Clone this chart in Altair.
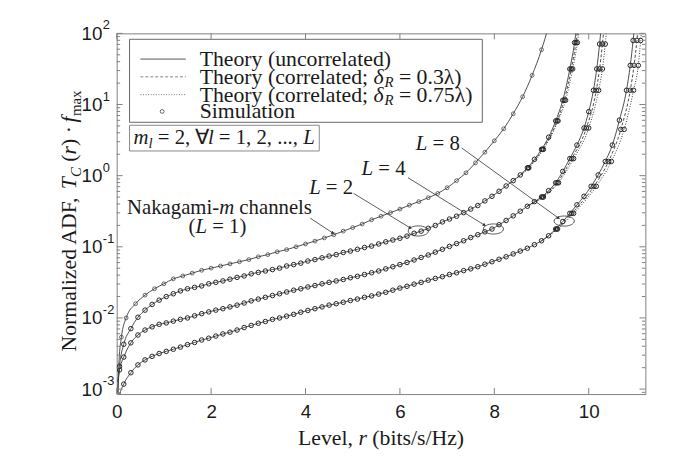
import altair as alt
import pandas as pd

# ---------------- values ----------------
# Level grid (bits/s/Hz) shared by the dense curves
r_grid = [0.15, 0.3, 0.45, 0.6, 0.75, 0.9, 1.05, 1.2, 1.35, 1.5, 1.65, 1.8, 1.95, 2.1, 2.25,
          2.4, 2.55, 2.7, 2.85, 3.0, 3.15, 3.3, 3.45, 3.6, 3.75, 3.9, 4.05, 4.2, 4.35, 4.5,
          4.65, 4.8, 4.95, 5.1, 5.25, 5.4, 5.55, 5.7, 5.85, 6.0, 6.15, 6.3, 6.45, 6.6, 6.75,
          6.9, 7.05, 7.2, 7.35, 7.5, 7.65, 7.8, 7.95, 8.1, 8.25, 8.4, 8.55, 8.7, 8.85, 9.0,
          9.15, 9.3, 9.45, 9.6, 9.75, 9.9, 10.05, 10.2, 10.35, 10.5, 10.65, 10.8, 10.95]

# L = 1 (Nakagami-m channel), log10 of normalized ADF
r_L1 = [0.02, 0.05, 0.1, 0.2, 0.4, 0.6, 0.8, 1.0, 1.2, 1.4, 1.6, 1.8, 2.0, 2.2, 2.4, 2.6, 2.8,
        3.0, 3.2, 3.4, 3.6, 3.8, 4.0, 4.2, 4.4, 4.6, 4.8, 5.0, 5.2, 5.4, 5.6, 5.8, 6.0, 6.2,
        6.4, 6.6, 6.8, 7.0, 7.2, 7.4, 7.6, 7.8, 8.0, 8.2, 8.4, 8.6, 8.8, 9.0, 9.15]
log_L1 = [-3.3, -2.6, -2.27, -2.0,
          -1.8, -1.68, -1.59, -1.52, -1.45, -1.41, -1.37, -1.33, -1.30, -1.27,
          -1.24, -1.21, -1.18, -1.14, -1.11, -1.07, -1.04, -1.00, -0.96, -0.92,
          -0.875, -0.83, -0.78, -0.73, -0.68, -0.62, -0.57, -0.52, -0.47, -0.415,
          -0.365, -0.31, -0.25, -0.17, -0.07, 0.04, 0.18, 0.33, 0.49, 0.66,
          0.87, 1.11, 1.41, 1.77, 2.1]

# L = 2 (uncorrelated)
r_L2 = [0.02, 0.06] + r_grid[:64] + [9.7, 9.78]
log_L2 = [-3.05, -2.68,
          -2.37, -2.15, -1.99, -1.89, -1.81, -1.75, -1.70, -1.66, -1.62, -1.59,
          -1.57, -1.55, -1.52, -1.50, -1.48, -1.455, -1.43, -1.41, -1.38, -1.36,
          -1.34, -1.32, -1.30, -1.27, -1.25, -1.23, -1.20, -1.18, -1.155, -1.13,
          -1.11, -1.08, -1.06, -1.035, -1.01, -0.99, -0.96, -0.93, -0.905, -0.88,
          -0.85, -0.81, -0.78, -0.74, -0.70, -0.65, -0.61, -0.57, -0.52, -0.47,
          -0.42, -0.355, -0.29, -0.22, -0.145, -0.07, 0.01, 0.11, 0.23, 0.37,
          0.54, 0.77, 1.06, 1.5,
          1.87, 2.3]

# L = 4 (uncorrelated)
r_L4 = [0.02, 0.06] + r_grid[:66] + [10.0, 10.1, 10.17, 10.23, 10.28]
log_L4 = [-2.9, -2.73,
          -2.55, -2.35, -2.24, -2.17, -2.125, -2.09, -2.07, -2.045, -2.02, -2.0,
          -1.97, -1.94, -1.915, -1.89, -1.87, -1.845, -1.82, -1.79, -1.76, -1.735,
          -1.71, -1.685, -1.66, -1.635, -1.61, -1.59, -1.565, -1.545, -1.52, -1.50,
          -1.48, -1.46, -1.435, -1.415, -1.39, -1.365, -1.34, -1.31, -1.28, -1.25,
          -1.22, -1.185, -1.15, -1.115, -1.075, -1.035, -0.995, -0.955, -0.915, -0.87,
          -0.83, -0.79, -0.75, -0.69, -0.63, -0.565, -0.50, -0.43, -0.365, -0.30,
          -0.21, -0.10, 0.06, 0.24, 0.43, 0.67,
          0.9, 1.2, 1.5, 1.85, 2.2]

# L = 8 (uncorrelated)
r_L8 = [0.02, 0.06] + r_grid[:72] + [10.88, 10.94, 10.99]
log_L8 = [-3.3, -3.1,
          -2.93, -2.77, -2.66, -2.59, -2.54, -2.50, -2.47, -2.44, -2.41, -2.375,
          -2.345, -2.31, -2.285, -2.255, -2.225, -2.20, -2.17, -2.135, -2.105, -2.075,
          -2.05, -2.02, -2.0, -1.975, -1.95, -1.92, -1.895, -1.87, -1.845, -1.82,
          -1.80, -1.78, -1.755, -1.735, -1.71, -1.69, -1.665, -1.64, -1.61, -1.58,
          -1.555, -1.525, -1.50, -1.47, -1.445, -1.42, -1.39, -1.365, -1.335, -1.31,
          -1.28, -1.245, -1.21, -1.175, -1.14, -1.10, -1.06, -1.02, -0.97, -0.915,
          -0.845, -0.75, -0.645, -0.53, -0.41, -0.29, -0.15, 0.01, 0.20, 0.43,
          0.78, 1.2,
          1.55, 1.9, 2.25]

# correlated branches (upper part, where they leave the uncorrelated curve)
log_L2c = [-0.07, 0.11, 0.37, 0.77, 1.06, 1.5, 1.87, 2.3]
r_L2_03 = [8.4, 8.72, 9.02, 9.33, 9.48, 9.63, 9.73, 9.81]
r_L2_075 = [8.4, 8.73, 9.04, 9.35, 9.51, 9.66, 9.76, 9.84]
log_L4c = [-0.43, -0.30, -0.10, 0.24, 0.67, 1.2, 1.5, 1.85, 2.2]
r_L4_03 = [8.7, 9.02, 9.33, 9.64, 9.95, 10.16, 10.23, 10.29, 10.34]
r_L4_075 = [8.7, 9.04, 9.36, 9.68, 10.0, 10.21, 10.29, 10.35, 10.4]
log_L8c = [-0.915, -0.75, -0.53, -0.15, 0.2, 0.65, 1.2, 1.55, 1.9, 2.2]
r_L8_03 = [9.0, 9.32, 9.64, 10.11, 10.42, 10.68, 10.88, 10.96, 11.02, 11.06]
r_L8_075 = [9.0, 9.34, 9.68, 10.16, 10.48, 10.75, 10.95, 11.05, 11.1, 11.14]

# annotation anchors (data units)
arrow_r = [4.10, 5.02, 6.17, 7.31]
arrow_v = [0.253, 0.562, 0.937, 2.45]
arrow_r2 = [4.58, 6.22, 7.79, 9.36]
arrow_v2 = [0.156, 0.184, 0.202, 0.253]
ellipse_r = [6.39, 7.98, 9.48]
ellipse_v = [0.167, 0.178, 0.23]

# axis ticks / labels
x_ticks = [0, 2, 4, 6, 8, 10]
y_decades = [1e-3, 1e-2, 1e-1, 1, 10, 100]
y_exponents = ["-3", "-2", "-1", "0", "1", "2"]
Y_MIN = 10 ** -3.07
y_minor = [m * 10 ** k for k in range(-4, 2) for m in range(2, 10) if Y_MIN <= m * 10 ** k <= 100]

# ---------------- styling ----------------
W, H = 535, 365
SERIF = "Liberation Serif"
SANS = "Liberation Sans"
INK = "#1a1a1a"
LINE = "#3a3a3a"
FRAME = "#808080"

x_scale = alt.Scale(domain=[0, 11.2], nice=False, zero=False)
y_scale = alt.Scale(type="log", domain=[Y_MIN, 100], nice=False)
x_axis = alt.Axis(values=x_ticks, title=None, ticks=False, domain=False, grid=False,
                  labelFont=SANS, labelFontSize=19, labelColor=INK, labelPadding=9,
                  labelFlush=False, labelOverlap=False)
y_axis = alt.Axis(values=y_decades, labelExpr="'10'", title=None, ticks=False, domain=False,
                  grid=False, labelFont=SANS, labelFontSize=19, labelColor=INK,
                  labelPadding=15, labelFlush=False, labelOverlap=False)
X = alt.X("r:Q", scale=x_scale, axis=x_axis)
Y = alt.Y("adf:Q", scale=y_scale, axis=y_axis)


def curve(name, rs, logs):
    return pd.DataFrame({"r": rs, "adf": [10 ** v for v in logs], "curve": name})


solid = pd.concat([curve("L1", r_L1, log_L1), curve("L2", r_L2, log_L2),
                   curve("L4", r_L4, log_L4), curve("L8", r_L8, log_L8)])
dashed = pd.concat([curve("L2", r_L2_03, log_L2c), curve("L4", r_L4_03, log_L4c),
                    curve("L8", r_L8_03, log_L8c)])
dotted = pd.concat([curve("L2", r_L2_075, log_L2c), curve("L4", r_L4_075, log_L4c),
                    curve("L8", r_L8_075, log_L8c)])
sims1 = curve("L1", r_L1[2:], log_L1[2:])
sims = pd.concat([curve("L2", r_L2[1:], log_L2[1:]),
                  curve("L4", r_L4[1:], log_L4[1:]), curve("L8", r_L8[1:], log_L8[1:]),
                  curve("a", r_L2_03[1:], log_L2c[1:]), curve("b", r_L2_075[1:], log_L2c[1:]),
                  curve("c", r_L4_03[1:], log_L4c[1:]), curve("d", r_L4_075[1:], log_L4c[1:]),
                  curve("e", r_L8_03[1:], log_L8c[1:]), curve("f", r_L8_075[1:], log_L8c[1:])])

layers = []
layers.append(alt.Chart(solid).mark_line(color=LINE, strokeWidth=0.9, clip=True,
                                         interpolate="monotone")
              .encode(x=X, y=Y, detail="curve:N"))
layers.append(alt.Chart(dashed).mark_line(color=LINE, strokeWidth=0.9, clip=True,
                                          strokeDash=[3, 2], interpolate="monotone")
              .encode(x=X, y=Y, detail="curve:N"))
layers.append(alt.Chart(dotted).mark_line(color=LINE, strokeWidth=1.0, clip=True,
                                          strokeDash=[1, 1.6], interpolate="monotone")
              .encode(x=X, y=Y, detail="curve:N"))
layers.append(alt.Chart(sims1).mark_point(shape="circle", filled=False, size=15,
                                          strokeWidth=0.8, color="#444", opacity=1,
                                          clip=True)
              .encode(x=X, y=Y))
layers.append(alt.Chart(sims).mark_point(shape="circle", filled=False, size=21,
                                         strokeWidth=1.0, color="#262626", opacity=1,
                                         clip=True)
              .encode(x=X, y=Y))

# inward ticks on all four sides
ytk_major = pd.DataFrame({"adf": y_decades})
ytk_minor = pd.DataFrame({"adf": y_minor})
xtk = pd.DataFrame({"r": x_ticks})
for df, ln in ((ytk_major, 6), (ytk_minor, 3.5)):
    layers.append(alt.Chart(df).mark_rule(color=FRAME, strokeWidth=1)
                  .encode(y=Y, x=alt.value(0), x2=alt.value(ln)))
    layers.append(alt.Chart(df).mark_rule(color=FRAME, strokeWidth=1)
                  .encode(y=Y, x=alt.value(W - ln), x2=alt.value(W)))
layers.append(alt.Chart(xtk).mark_rule(color=FRAME, strokeWidth=1)
              .encode(x=X, y=alt.value(H), y2=alt.value(H - 6)))
layers.append(alt.Chart(xtk).mark_rule(color=FRAME, strokeWidth=1)
              .encode(x=X, y=alt.value(0), y2=alt.value(6)))

# exponents of the y tick labels
layers.append(alt.Chart(pd.DataFrame({"adf": y_decades, "exp": y_exponents}))
              .mark_text(align="left", baseline="middle", dy=-8, font=SANS, fontSize=13,
                         color=INK)
              .encode(y=Y, x=alt.value(-14), text="exp:N"))

# arrows and ellipses
arrows = pd.DataFrame({"r": arrow_r, "adf": arrow_v, "r2": arrow_r2, "adf2": arrow_v2,
                       "ang": [123, 122, 124, 126]})
layers.append(alt.Chart(arrows).mark_rule(color="#333", strokeWidth=0.8)
              .encode(x=X, y=Y, x2="r2:Q", y2="adf2:Q"))
layers.append(alt.Chart(arrows).mark_point(shape="triangle-up", filled=True, size=14,
                                           color="#333", opacity=1)
              .encode(x=alt.X("r2:Q", scale=x_scale, axis=x_axis),
                      y=alt.Y("adf2:Q", scale=y_scale, axis=y_axis),
                      angle=alt.Angle("ang:Q", scale=None)))
ell_path = "M -1 0 A 1 0.5 0 1 1 1 0 A 1 0.5 0 1 1 -1 0 Z"
layers.append(alt.Chart(pd.DataFrame({"r": ellipse_r, "adf": ellipse_v}))
              .mark_point(shape=ell_path, filled=False, size=420, strokeWidth=0.8,
                          color="#333", opacity=1)
              .encode(x=X, y=Y))

# ---------------- text helpers ----------------
UP = {' ': 250, '(': 333, ')': 333, ',': 250, '-': 333, '.': 250, '/': 278, '=': 564,
      ';': 278, '·': 250, '∀': 600, 'λ': 550,
      'A': 722, 'D': 722, 'F': 556, 'H': 722, 'L': 611, 'N': 722, 'S': 556, 'T': 611,
      'a': 444, 'b': 500, 'c': 444, 'd': 500, 'e': 444, 'g': 500, 'h': 500, 'i': 278,
      'k': 500, 'l': 278, 'm': 778, 'n': 500, 'o': 500, 'r': 333, 's': 389, 't': 278,
      'u': 500, 'v': 500, 'x': 500, 'y': 500, 'z': 444}
IT = {'T': 556, 'C': 667, 'r': 389, 'f': 300, 'm': 722, 'l': 278, 'L': 556, 'δ': 500,
      'R': 611}


def tw(s, size, it):
    tot = 0
    for c in s:
        tot += (IT.get(c) if it and c in IT else UP.get(c, 500))
    return tot * size / 1000


def text_layer(t, x, y, size, it, angle=None, baseline="middle"):
    kw = dict(align="left", baseline=baseline, font=SERIF, fontSize=size,
              fontStyle="italic" if it else "normal", color=INK)
    if angle is not None:
        kw["angle"] = angle
    return alt.Chart(pd.DataFrame({"a": [0]})).mark_text(**kw).encode(
        x=alt.value(x), y=alt.value(y), text=alt.value(t))


def hrow(segs, x0, y, center=False):
    # segs: (text, italic, size, vertical shift)
    if center:
        x0 = x0 - sum(tw(s, z, i) for s, i, z, d in segs) / 2
    x = x0
    for s, i, z, d in segs:
        lead = tw(s[: len(s) - len(s.lstrip())], z, False)
        if s.strip():
            layers.append(text_layer(s.strip(), x + lead, y + d, z, i))
        x += tw(s, z, i)


def vrow(segs, xb, y0):
    y = y0
    for s, i, z, d in segs:
        lead = tw(s[: len(s) - len(s.lstrip())], z, False)
        if s.strip():
            layers.append(text_layer(s.strip(), xb + d, y - lead, z, i, angle=270,
                                     baseline="alphabetic"))
        y -= tw(s, z, i)


# legend box
layers.append(alt.Chart(pd.DataFrame({"a": [0]})).mark_rect(fill="white", stroke="#666",
                                                             strokeWidth=1)
              .encode(x=alt.value(13), x2=alt.value(370), y=alt.value(6), y2=alt.value(90)))
rows_y = [26, 44, 62, 79]
layers.append(alt.Chart(pd.DataFrame({"a": [0]})).mark_rule(color="#444", strokeWidth=0.9)
              .encode(x=alt.value(24), x2=alt.value(70), y=alt.value(rows_y[0])))
layers.append(alt.Chart(pd.DataFrame({"a": [0]})).mark_rule(color="#777", strokeWidth=0.9,
                                                            strokeDash=[3, 2])
              .encode(x=alt.value(24), x2=alt.value(70), y=alt.value(rows_y[1])))
layers.append(alt.Chart(pd.DataFrame({"a": [0]})).mark_rule(color="#777", strokeWidth=1,
                                                            strokeDash=[1, 1.6])
              .encode(x=alt.value(24), x2=alt.value(70), y=alt.value(rows_y[2])))
layers.append(alt.Chart(pd.DataFrame({"a": [0]})).mark_point(shape="circle", filled=False,
                                                             size=15, strokeWidth=0.8,
                                                             color="#444", opacity=1)
              .encode(x=alt.value(46), y=alt.value(rows_y[3])))
LS = 22
hrow([("Theory (uncorrelated)", False, LS, 0)], 84, rows_y[0])
hrow([("Theory (correlated; ", False, LS, 0), ("δ", True, LS, 0), ("R", True, 15, 5),
      (" = 0.3λ)", False, LS, 0)], 84, rows_y[1])
hrow([("Theory (correlated; ", False, LS, 0), ("δ", True, LS, 0), ("R", True, 15, 5),
      (" = 0.75λ)", False, LS, 0)], 84, rows_y[2])
hrow([("Simulation", False, LS, 0)], 84, rows_y[3])

# m_l box
MS = 21
layers.append(alt.Chart(pd.DataFrame({"a": [0]})).mark_rect(fill="white", stroke="#888",
                                                             strokeWidth=1)
              .encode(x=alt.value(13), x2=alt.value(205), y=alt.value(93), y2=alt.value(119)))
hrow([("m", True, MS, 0), ("l", True, 15, 5), (" = 2, ∀", False, MS, 0), ("l", True, MS, 0),
      (" = 1, 2, ..., ", False, MS, 0), ("L", True, MS, 0)], 17, 106)

# curve annotations
AS = 21
hrow([("Nakagami-", False, AS, 0), ("m", True, AS, 0), (" channels", False, AS, 0)],
     104, 177, center=True)
hrow([("(", False, AS, 0), ("L", True, AS, 0), (" = 1)", False, AS, 0)], 102, 196, center=True)
hrow([("L", True, AS, 0), (" = 2", False, AS, 0)], 217, 157, center=True)
hrow([("L", True, AS, 0), (" = 4", False, AS, 0)], 270, 137, center=True)
hrow([("L", True, AS, 0), (" = 8", False, AS, 0)], 325, 112, center=True)

# axis titles
TS = 22
hrow([("Level, ", False, TS, 0), ("r", True, TS, 0), (" (bits/s/Hz)", False, TS, 0)],
     W / 2, 410, center=True)
vrow([("Normalized ADF, ", False, TS, 0), ("T", True, TS, 0), ("C", True, 15, 5),
      (" (", False, TS, 0), ("r", True, TS, 0), (") · ", False, TS, 0), ("f", True, TS, 0),
      ("max", False, 15, 5)], -41, 322)

chart = alt.layer(*layers).properties(
    width=W, height=H,
    autosize=alt.AutoSizeParams(type="none"),
    padding={"left": 110, "top": 23, "right": 32, "bottom": 60},
    background="white",
).configure_view(stroke=FRAME, strokeWidth=1)

chart.save("out.html", embed_options={"renderer": "svg", "actions": False})
